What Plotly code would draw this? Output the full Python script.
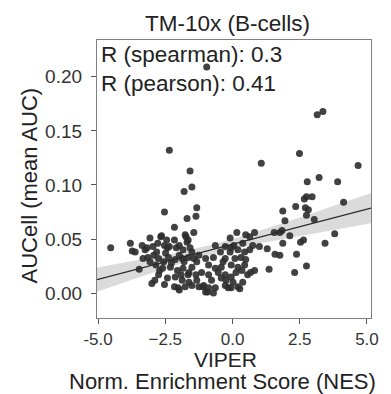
import numpy as np
import plotly.graph_objects as go

title_text = "TM-10x (B-cells)"
stat_labels = ["R (spearman): 0.3", "R (pearson): 0.41"]
x_label_lines = ["VIPER", "Norm. Enrichment Score (NES)"]
y_label = "AUCell (mean AUC)"
x_tick_vals = [-5.0, -2.5, 0.0, 2.5, 5.0]
x_tick_text = ["-5.0", "\u22122.5", "0.0", "2.5", "5.0"]
y_tick_vals = [0.00, 0.05, 0.10, 0.15, 0.20]
y_tick_text = ["0.00", "0.05", "0.10", "0.15", "0.20"]

nes = [
    -0.96, 3.15, 3.36, -2.35, -1.58, -1.51, -1.80, -1.33, -2.53, -1.69,
    -1.36, -2.16, 1.07, 2.49, 4.67, 2.78, 3.22, 3.91, 2.96, 2.67,
    2.75, 4.13, 2.35, 1.87, 2.71, 2.82, 2.75, 1.95, 3.04,
    -1.44, -1.73, -2.64, -3.07, -2.16, -1.69, -3.80, -4.53, -3.73, -3.62,
    -3.18, -2.96, -2.78, -2.53, -2.35, -2.09, -0.64, -0.09, 0.16, 0.49,
    0.64, 1.00, 1.29, 1.58, 1.76, 1.55, 1.76, 2.13, 1.87, 2.53,
    2.64, 2.38, 3.44, 3.80, 2.75, 2.31, 1.36, 0.82, 0.67, 0.20,
    0.27, -0.27, -0.24, -0.64, -0.93, -1.25, -1.11, -1.98, -2.16, -3.00,
    -3.47, 1.84, -2.67, -1.76, -1.65, -3.33, -3.15, -2.93, -2.75, -2.56,
    -2.38, -2.13, -1.87, -1.65, -2.42, -1.84, -1.58, -2.85, -2.60, -2.31,
    -2.05, -1.84, -1.51, -2.75, -2.42, -2.13, -1.87, -1.65, -2.02, -1.76,
    0.82, -0.27, -0.05, 0.20, 0.45, 0.64, -1.51, -1.25, -1.00, -1.33,
    -0.27, 0.09, 0.31, 0.49, -0.05, 0.20, 0.45, -0.89, -0.64, -0.42,
    -1.62, -1.36, -1.15, -0.89, -0.53, -0.27, -0.05, 0.13, -0.42, -1.51,
    -1.07, -0.89, -0.16, -0.05, -1.00, -0.71,
    -3.25, -2.82, -2.49, -1.98, -2.27, -2.71, -3.07, -1.80, -1.44, -1.98,
    -2.45, -3.36, -2.89, -2.53, -1.62, -1.33, -1.91, 0.38, 0.05, 0.75,
    -0.45, -0.09, 0.35, 0.56, 0.02, -0.78, 0.38, -0.35, -0.71,
]
auc = [
    0.209, 0.165, 0.168, 0.132, 0.113, 0.098, 0.094, 0.079, 0.075, 0.069,
    0.071, 0.061, 0.120, 0.129, 0.118, 0.103, 0.107, 0.103, 0.089, 0.087,
    0.089, 0.084, 0.080, 0.076, 0.079, 0.077, 0.072, 0.067, 0.068,
    0.056, 0.052, 0.053, 0.051, 0.049, 0.047, 0.046, 0.042, 0.039, 0.038,
    0.042, 0.043, 0.046, 0.044, 0.043, 0.042, 0.044, 0.051, 0.056, 0.054,
    0.052, 0.043, 0.041, 0.036, 0.035, 0.056, 0.056, 0.053, 0.046, 0.047,
    0.049, 0.036, 0.046, 0.055, 0.025, 0.019, 0.022, 0.021, 0.019, 0.006,
    0.004, 0.007, 0.012, 0.005, 0.001, 0.006, 0.006, 0.003, 0.006, 0.009,
    0.022, 0.058, 0.052, 0.054, 0.049, 0.032, 0.033, 0.035, 0.032, 0.029,
    0.033, 0.031, 0.032, 0.033, 0.042, 0.040, 0.042, 0.026, 0.023, 0.024,
    0.021, 0.023, 0.024, 0.017, 0.014, 0.015, 0.012, 0.017, 0.005, 0.006,
    0.056, 0.043, 0.042, 0.040, 0.038, 0.040, 0.038, 0.035, 0.032, 0.029,
    0.032, 0.032, 0.033, 0.031, 0.026, 0.024, 0.026, 0.026, 0.023, 0.024,
    0.019, 0.017, 0.019, 0.017, 0.019, 0.017, 0.015, 0.019, 0.014, 0.007,
    0.007, 0.005, 0.005, 0.005, 0.001, 0.000,
    0.040, 0.038, 0.037, 0.035, 0.028, 0.021, 0.029, 0.029, 0.032, 0.044,
    0.049, 0.044, 0.012, 0.008, 0.010, 0.012, 0.017, 0.046, 0.044, 0.044,
    0.038, 0.038, 0.021, 0.017, 0.010, 0.012, 0.010, 0.029, 0.033,
]

x = np.array(nes)
y = np.array(auc)
n = len(x)
slope, intercept = np.polyfit(x, y, 1)
resid = y - (slope * x + intercept)
s = np.sqrt(np.sum(resid ** 2) / (n - 2))
sxx = np.sum((x - x.mean()) ** 2)
x_range = [-5.04, 5.15]
y_range = [-0.023, 0.234]
xg = np.linspace(x_range[0], x_range[1], 100)
yg = slope * xg + intercept
se = s * np.sqrt(1.0 / n + (xg - x.mean()) ** 2 / sxx)
upper = yg + 1.97 * se
lower = yg - 1.97 * se

fig = go.Figure()
fig.add_trace(go.Scatter(
    x=np.concatenate([xg, xg[::-1]]), y=np.concatenate([upper, lower[::-1]]),
    fill="toself", fillcolor="rgba(200,200,200,0.65)", line=dict(width=0),
    hoverinfo="skip", showlegend=False))
fig.add_trace(go.Scatter(
    x=x, y=y, mode="markers",
    marker=dict(size=7, color="rgba(45,45,45,0.9)", line=dict(width=0)),
    showlegend=False))
fig.add_trace(go.Scatter(
    x=xg, y=yg, mode="lines", line=dict(color="#2a2a2a", width=1.3),
    showlegend=False))

font_family = "Arial, Liberation Sans, sans-serif"
axis_common = dict(
    showgrid=False, zeroline=False, showline=True, mirror=True,
    linecolor="#808080", linewidth=1.2, ticks="outside", ticklen=5,
    tickcolor="#555555", tickwidth=1.2,
)
fig.update_layout(
    width=391, height=394,
    margin=dict(l=97, r=15, t=40, b=76),
    plot_bgcolor="white", paper_bgcolor="white",
    font=dict(family=font_family, color="#222222"),
    xaxis=dict(range=x_range, tickvals=x_tick_vals, ticktext=x_tick_text,
               tickfont=dict(size=17, color="#333333", family=font_family),
               **axis_common),
    yaxis=dict(range=y_range, tickvals=y_tick_vals, ticktext=y_tick_text,
               tickfont=dict(size=19, color="#333333", family=font_family),
               ticklabelstandoff=5, **axis_common),
)

annotations = [
    dict(text=title_text, x=0.477, y=1.0, xref="paper", yref="paper",
         xanchor="center", yanchor="bottom", yshift=2, showarrow=False,
         font=dict(size=22.5, color="#222222")),
    dict(text=stat_labels[0], x=0.0, y=0.948, xref="paper", yref="paper",
         xanchor="left", yanchor="middle", xshift=2, showarrow=False,
         font=dict(size=22.5, color="#222222")),
    dict(text=stat_labels[1], x=0.0, y=0.845, xref="paper", yref="paper",
         xanchor="left", yanchor="middle", xshift=2, showarrow=False,
         font=dict(size=22.5, color="#222222")),
    dict(text=y_label, x=-0.247, y=0.478, xref="paper", yref="paper",
         xanchor="center", yanchor="middle", textangle=-90, showarrow=False,
         font=dict(size=22, color="#222222")),
    dict(text=x_label_lines[0], x=0.47, y=-0.1475, xref="paper", yref="paper",
         xanchor="center", yanchor="middle", showarrow=False,
         font=dict(size=21, color="#222222")),
    dict(text=x_label_lines[1], x=0.459, y=-0.2302, xref="paper", yref="paper",
         xanchor="center", yanchor="middle", showarrow=False,
         font=dict(size=22, color="#222222")),
]
fig.update_layout(annotations=annotations)

fig.write_html("out.html")
